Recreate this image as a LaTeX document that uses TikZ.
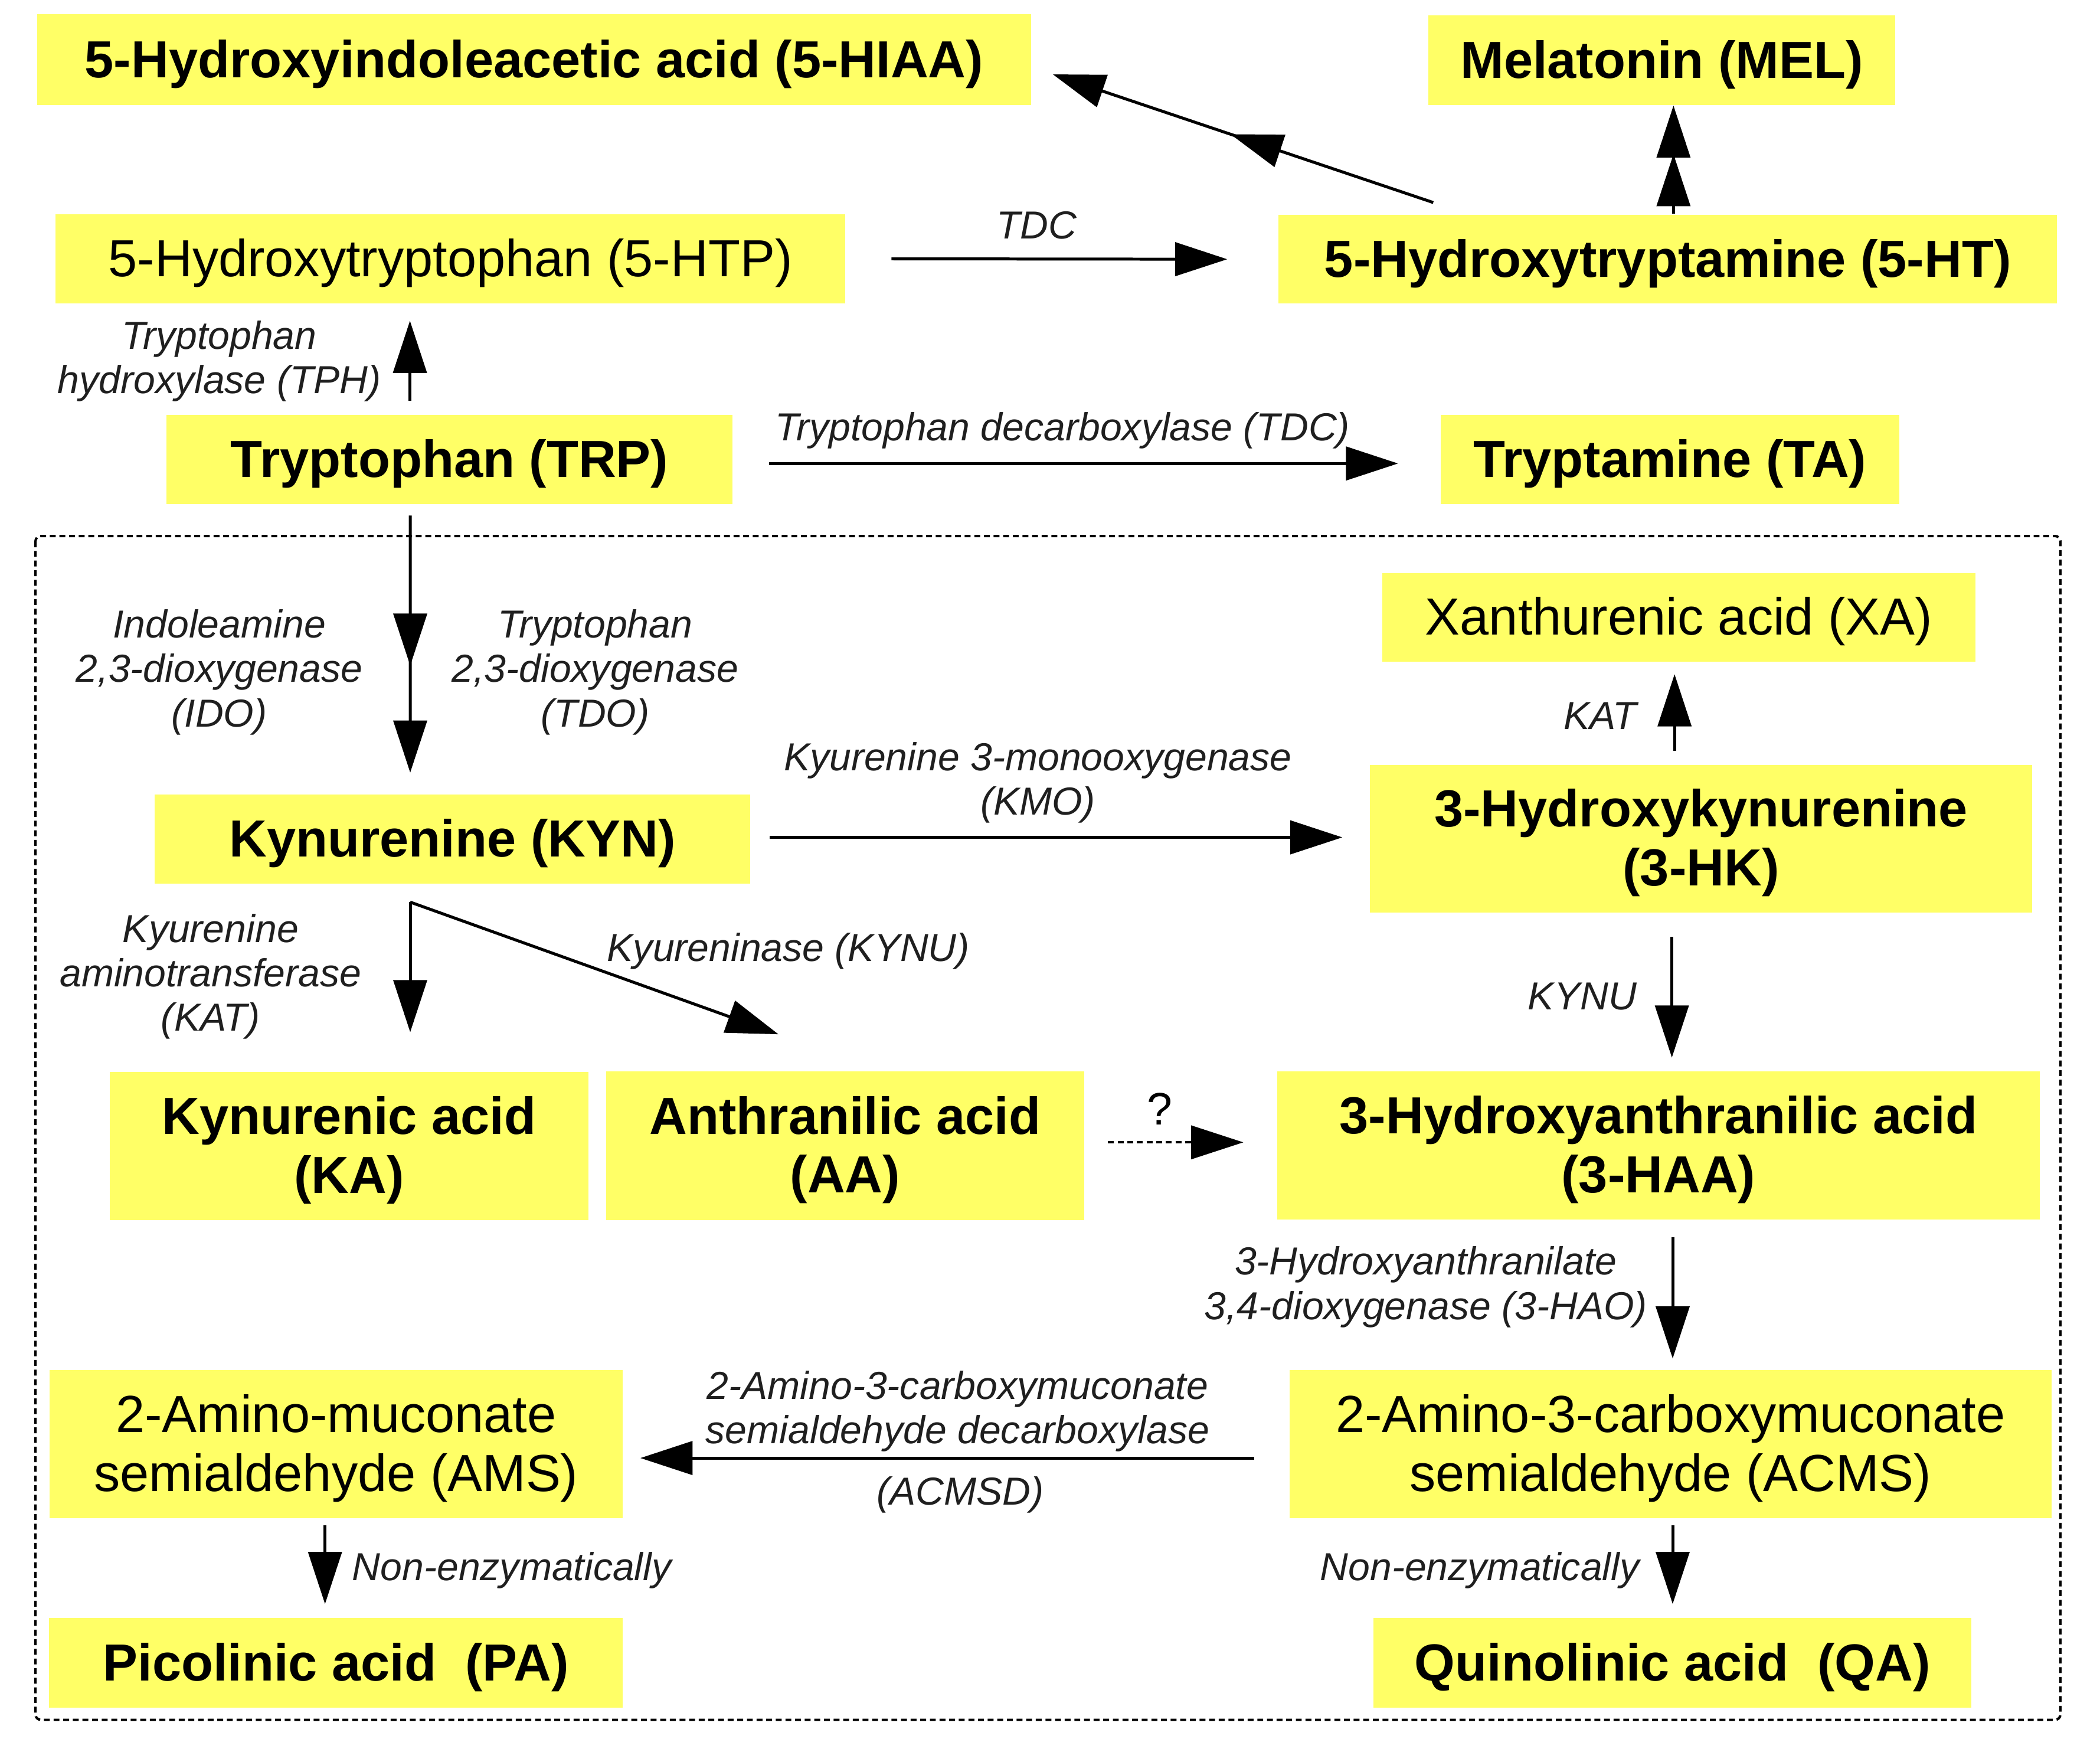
\documentclass[tikz,border=0pt]{standalone}
\usepackage{fontspec}
\setmainfont{Liberation Sans}
\usetikzlibrary{arrows.meta,decorations.markings}
\definecolor{boxyellow}{RGB}{255,255,102}
\newcommand{\bxfont}{\fontsize{19.5}{22}\selectfont\bfseries}
\newcommand{\rgfont}{\fontsize{19.5}{22}\selectfont}
\newcommand{\lbfont}{\fontsize{14.6}{16.6}\selectfont\itshape}
\newcommand{\dn}[1]{\raisebox{-1.6pt}[\height][\depth]{#1}}
\newcommand{\ldn}[1]{\raisebox{-0.8pt}[\height][\depth]{#1}}
\begin{document}
\begin{tikzpicture}[x=0.5pt,y=-0.5pt,
  box/.style 2 args={fill=boxyellow, inner sep=0pt, align=center,
    minimum width=#1*0.5pt, minimum height=#2*0.5pt, font=\bxfont},
  rbox/.style 2 args={box={#1}{#2}, font=\rgfont},
  lbl/.style={inner sep=0pt, align=center, font=\lbfont, text=black!88},
  tipA/.tip={Triangle[length=19.5pt,width=12.5pt]},
  arr/.style={-tipA, line width=1.1pt},
  darr/.style={-tipA, line width=0.8pt, dash pattern=on 2.2pt off 1.4pt},
  midarr/.style={postaction={decorate,decoration={markings,
    mark=at position #1 with {\arrow{tipA}}}}},
  frame/.style={line width=0.9pt, dash pattern=on 2.2pt off 1.4pt, rounded corners=2pt}]
\useasboundingbox (0,0) rectangle (1570.1,1307.2);

% frame
\draw[frame] (26.5,400.7) rectangle (1540.5,1285.7);

% boxes
\node[box={743.2}{68}]  (hiaa) at (399.4,44.6)  {\dn{5-Hydroxyindoleacetic acid (5-HIAA)}};
\node[box={349}{67}]    (mel)  at (1242.5,45)   {\dn{Melatonin (MEL)}};
\node[rbox={590.5}{67}] (htp)  at (336.8,193.5) {\dn{5-Hydroxytryptophan (5-HTP)}};
\node[box={582}{66.4}]  (ht)   at (1247,193.8)  {\dn{5-Hydroxytryptamine (5-HT)}};
\node[box={423.2}{67}]  (trp)  at (336.1,343.5) {\dn{Tryptophan (TRP)}};
\node[box={343}{67}]    (ta)   at (1248.5,343.5) {\dn{Tryptamine (TA)}};
\node[rbox={443.5}{66.2}] (xa) at (1255.3,461.5) {\dn{Xanthurenic acid (XA)}};
\node[box={445.4}{66.6}] (kyn) at (338.3,627.3) {\dn{Kynurenine (KYN)}};
\node[box={495.5}{110.3}] (hk) at (1271.8,626.9) {\dn{3-Hydroxykynurenine}\\\dn{(3-HK)}};
\node[box={358}{110.5}] (ka)   at (261,856.8)   {\dn{Kynurenic acid}\\\dn{(KA)}};
\node[box={357.7}{111}] (aa)   at (631.9,856.5) {\dn{Anthranilic acid}\\\dn{(AA)}};
\node[box={570}{110.5}] (haa)  at (1240,856.3)  {\dn{3-Hydroxyanthranilic acid}\\\dn{(3-HAA)}};
\node[rbox={428.6}{111}] (ams) at (251.3,1079.5) {\dn{2-Amino-muconate}\\\dn{semialdehyde (AMS)}};
\node[rbox={570}{111}]  (acms) at (1249,1079.5) {\dn{2-Amino-3-carboxymuconate}\\\dn{semialdehyde (ACMS)}};
\node[box={429}{67.1}]  (pa)   at (251.1,1243.2) {\dn{Picolinic acid\ \ (PA)}};
\node[box={447}{67.1}]  (qa)   at (1250.5,1243.2) {\dn{Quinolinic acid\ \ (QA)}};

% connectors
\draw[arr,midarr=0.533] ([shift={(116,-8.8)}]ht.north west) -- ([shift={(15.8,11)}]hiaa.east);
\draw[arr,midarr=0.55] ([shift={(4.2,-0.6)}]ht.north) -- ([shift={(8.7,0)}]mel.south);
\draw[arr] ([shift={(34,0)}]htp.east) -- ([shift={(-38,0)}]ht.west);
\draw[arr] ([shift={(-29.6,-10)}]trp.north) -- ([shift={(-30.3,12.4)}]htp.south);
\draw[arr] ([shift={(27,3)}]trp.east) -- ([shift={(-31.3,3)}]ta.west);
\draw[arr,midarr=0.584] ([shift={(-29.4,8)}]trp.south) -- ([shift={(-31.6,-16)}]kyn.north);
\draw[arr] ([shift={(14,-1.3)}]kyn.east) -- ([shift={(-20,-0.9)}]hk.west);
\draw[arr] ([shift={(-19.8,-9.9)}]hk.north) -- ([shift={(-3.3,9)}]xa.south);
\coordinate (kj) at ([shift={(-31.6,13.4)}]kyn.south);
\draw[arr] (kj) -- ([shift={(45.7,-29.5)}]ka.north);
\draw[arr] (kj) -- ([shift={(-49.9,-27.4)}]aa.north);
\draw[arr] ([shift={(-21.8,18)}]hk.south) -- ([shift={(10,-10)}]haa.north);
\draw[darr] ([shift={(17.3,-2.5)}]aa.east) -- ([shift={(-25,-2.3)}]haa.west);
\draw[arr] ([shift={(10.6,13)}]haa.south) -- ([shift={(1.6,-8)}]acms.north);
\draw[arr] ([shift={(-26,10.5)}]acms.west) -- ([shift={(12.8,10.5)}]ams.east);
\draw[arr] ([shift={(-8.3,5)}]ams.south) -- ([shift={(-8.1,-10.1)}]pa.north);
\draw[arr] ([shift={(1.6,5)}]acms.south) -- ([shift={(0.1,-10.1)}]qa.north);

% labels
\node[lbl] (lTDC)  at (775,168.5)   {TDC};
\node[lbl] (lTPH)  at (164,270)     {Tryptophan\\hydroxylase (TPH)};
\node[lbl] (lTDC2) at (794.5,322)   {Tryptophan decarboxylase (TDC)};
\node[lbl] (lIDO)  at (164,502.5)   {Indoleamine\\2,3-dioxygenase\\(IDO)};
\node[lbl] (lTDO)  at (445,502.5)   {Tryptophan\\2,3-dioxygenase\\(TDO)};
\node[lbl] (lKMO)  at (776,585.2)   {Kyurenine 3-monooxygenase\\(KMO)};
\node[lbl] (lKAT1) at (157.5,730)   {Kyurenine\\aminotransferase\\(KAT)};
\node[lbl] (lKYNU) at (589.5,711.1) {Kyureninase (KYNU)};
\node[lbl,anchor=east] (lKAT2) at (1224,535) {KAT};
\node[lbl,anchor=east] (lKYNU2) at (1224,745.1) {KYNU};
\node[inner sep=0pt,font=\fontsize{17}{19}\selectfont] (lq) at (867,829) {?};
\node[lbl] (lHAO)  at (1066,962.2)  {3-Hydroxyanthranilate\\3,4-dioxygenase (3-HAO)};
\node[lbl] (lACMSD) at (716,1055.1) {2-Amino-3-carboxymuconate\\semialdehyde decarboxylase};
\node[lbl] (lACMSD2) at (718,1117.5) {(ACMSD)};
\node[lbl,anchor=west] (lNE1) at (263,1174) {Non-enzymatically};
\node[lbl,anchor=east] (lNE2) at (1226,1174) {Non-enzymatically};
\end{tikzpicture}
\end{document}
